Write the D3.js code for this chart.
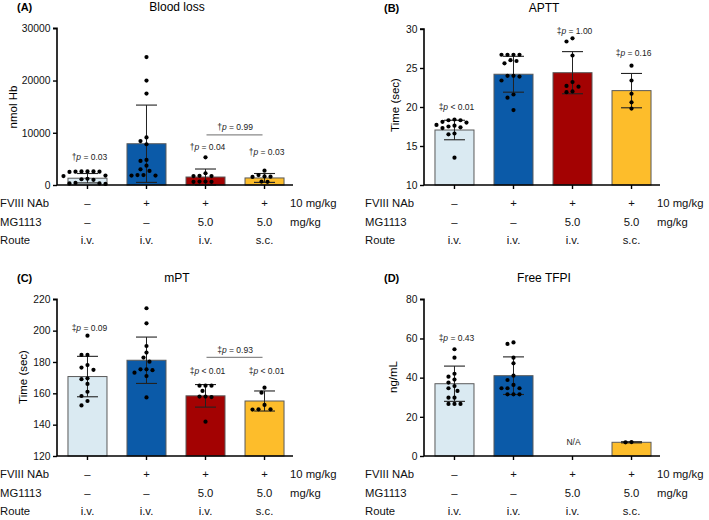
<!DOCTYPE html>
<html>
<head>
<meta charset="utf-8">
<script src="https://cdn.jsdelivr.net/npm/d3@7/dist/d3.min.js"></script>
<style>
  html, body { margin: 0; padding: 0; background: #fff; }
  svg { display: block; font-family: "Liberation Sans", Arial, Helvetica, sans-serif; }
</style>
</head>
<body>
<svg id="chart" width="709" height="520"></svg>
<script>
// ---------------- data ----------------
const groups = ["Vehicle", "FVIII NAb", "MG1113 i.v.", "MG1113 s.c."];
const groupColors = ["#daeaf2", "#0b5aa8", "#a30202", "#fdbd2b"];

const rowLabels = ["FVIII NAb", "MG1113", "Route"];
const rowUnits = ["10 mg/kg", "mg/kg", ""];
const fviiiRow = ["\u2013", "+", "+", "+"];
const mg1113Row = ["\u2013", "\u2013", "5.0", "5.0"];
const routeRow = ["i.v.", "i.v.", "i.v.", "s.c."];

// (A) Blood loss, nmol Hb
const bloodLossTicks = [0, 10000, 20000, 30000];
const bloodLossMean = [1300, 7900, 1530, 1350];
const bloodLossSD = [900, 7400, 1530, 850];
const bloodLossPoints = [
  [2600, 2600, 2600, 2550, 2550, 2500, 1800, 1700, 1200, 1100, 1000, 400, 300, 300, 200],
  [24500, 20000, 17500, 9100, 8400, 7800, 4800, 4600, 3700, 3000, 2700, 1900, 1900, 1800, 1800],
  [5300, 2250, 1750, 1700, 1700, 650, 650, 600, 600],
  [2750, 1900, 1650, 1600, 1550, 650, 600]
];

// (B) APTT, sec
const apttTicks = [10, 15, 20, 25, 30];
const apttMean = [17.05, 24.2, 24.4, 22.1];
const apttSD = [1.25, 2.3, 2.7, 2.2];
const apttPoints = [
  [18.4, 18.3, 18.3, 18.1, 18.0, 17.7, 17.6, 17.5, 17.4, 17.3, 16.6, 16.5, 13.5],
  [26.7, 26.7, 26.7, 26.7, 26.0, 25.9, 25.6, 24.0, 24.0, 23.9, 23.4, 21.6, 21.2, 19.6],
  [28.8, 28.4, 26.6, 23.2, 22.7, 22.6, 22.0, 21.9],
  [25.3, 23.4, 21.7, 20.6, 19.8]
];

// (C) mPT, sec
const mptTicks = [120, 140, 160, 180, 200, 220];
const mptMean = [170.7, 181.1, 158.4, 155.1];
const mptSD = [12.9, 14.8, 7.2, 6.4];
const mptPoints = [
  [196.8, 184.5, 184.5, 178, 176.4, 175, 169.6, 169, 166, 161, 158.3, 155.1, 152.3],
  [214.3, 204.7, 190.2, 186, 182.8, 180.2, 175.3, 175.3, 174.8, 173.2, 171, 157.4],
  [164.9, 164.9, 164.9, 161.5, 157.9, 157.9, 157.6, 141.9],
  [163.6, 160.4, 152.6, 149.8, 149.8, 149.6]
];

// (D) Free TFPI, ng/mL
const tfpiTicks = [0, 20, 40, 60, 80];
const tfpiMean = [36.9, 41.0, null, 7.0];
const tfpiSD = [9.0, 9.6, null, 0.3];
const tfpiPoints = [
  [54.5, 50.2, 42, 40.5, 39, 37.5, 35.7, 34.6, 33.2, 29.8, 29.8, 26.6, 26.6, 26.6],
  [58, 57.2, 50.2, 47.3, 41, 38.8, 36.3, 34.6, 34.6, 34.6, 31.5, 31.5, 31.5],
  [],
  [7.1, 7.0]
];

// annotations: [groupIndex, yValue, symbol, text]
const bloodLossNotes = [[0, 5400, "\u2020", " = 0.03"], [2, 7340, "\u2020", " = 0.04"], [3, 6320, "\u2020", " = 0.03"]];
const bloodLossBracket = { from: 2, to: 3, y: 9580, ty: 11170, sym: "\u2020", text: " = 0.99" };
const apttNotes = [[0, 20.05, "\u2021", " < 0.01"], [2, 29.74, "\u2021", " = 1.00"], [3, 26.9, "\u2021", " = 0.16"]];
const mptNotes = [[0, 201.9, "\u2021", " = 0.09"], [2, 174.4, "\u2021", " < 0.01"], [3, 174.4, "\u2021", " < 0.01"]];
const mptBracket = { from: 2, to: 3, y: 183, ty: 187.6, sym: "\u2021", text: " = 0.93" };
const tfpiNotes = [[0, 60.4, "\u2021", " = 0.43"]];

// ---------------- layout ----------------
const panels = [
  { letter: "(A)", title: "Blood loss", ylabel: "nmol Hb", x0: 57, top: 28.3, bottom: 185, domain: [0, 30000],
    ticks: bloodLossTicks, mean: bloodLossMean, sd: bloodLossSD, points: bloodLossPoints,
    notes: bloodLossNotes, bracket: bloodLossBracket, ylabX: 17, ylabY: 107, rowX: 0 },
  { letter: "(B)", title: "APTT", ylabel: "Time (sec)", x0: 424, top: 29, bottom: 185, domain: [10, 30],
    ticks: apttTicks, mean: apttMean, sd: apttSD, points: apttPoints,
    notes: apttNotes, bracket: null, ylabX: 399, ylabY: 105, rowX: 365 },
  { letter: "(C)", title: "mPT", ylabel: "Time (sec)", x0: 57, top: 299.3, bottom: 456, domain: [120, 220],
    ticks: mptTicks, mean: mptMean, sd: mptSD, points: mptPoints,
    notes: mptNotes, bracket: mptBracket, ylabX: 27, ylabY: 377, rowX: 0 },
  { letter: "(D)", title: "Free TFPI", ylabel: "ng/mL", x0: 424, top: 299.3, bottom: 456, domain: [0, 80],
    ticks: tfpiTicks, mean: tfpiMean, sd: tfpiSD, points: tfpiPoints,
    notes: tfpiNotes, bracket: null, na: 2, ylabX: 397, ylabY: 377, rowX: 365 }
];

const svg = d3.select("#chart");
svg.append("rect").attr("width", 709).attr("height", 520).attr("fill", "#fff");

const tableRows = [fviiiRow, mg1113Row, routeRow];

panels.forEach(p => {
  const g = svg.append("g");
  const x = d3.scaleBand().domain(groups).range([p.x0, p.x0 + 238]).paddingInner(0.339).paddingOuter(0.186);
  const y = d3.scaleLinear().domain(p.domain).range([p.bottom, p.top]).clamp(true);
  const cx = i => x(groups[i]) + x.bandwidth() / 2;
  const axisEnd = p.x0 + 236;

  // title & letter
  g.append("text").attr("x", p.x0 - 40).attr("y", p.top - 17).attr("font-size", 11).attr("font-weight", "bold")
    .text(p.letter);
  g.append("text").attr("x", (p.x0 + axisEnd) / 2 + 2).attr("y", p.top - 17).attr("font-size", 12)
    .attr("text-anchor", "middle").text(p.title);

  // bars
  groups.forEach((grp, i) => {
    if (p.mean[i] == null) return;
    g.append("rect").attr("x", x(grp)).attr("width", x.bandwidth())
      .attr("y", y(p.mean[i])).attr("height", y(p.domain[0]) - y(p.mean[i]))
      .attr("fill", groupColors[i]).attr("stroke", "#5a5a5a").attr("stroke-width", 1);
  });

  // error bars
  groups.forEach((grp, i) => {
    if (p.mean[i] == null) return;
    const hi = y(p.mean[i] + p.sd[i]), lo = y(p.mean[i] - p.sd[i]);
    const c = cx(i);
    g.append("line").attr("x1", c).attr("x2", c).attr("y1", hi).attr("y2", lo).attr("stroke", "#222").attr("stroke-width", 1);
    [hi, lo].forEach(v => g.append("line").attr("x1", c - 10.5).attr("x2", c + 10.5).attr("y1", v).attr("y2", v)
      .attr("stroke", "#222").attr("stroke-width", 1.1));
  });

  // dots (simple beeswarm)
  p.points.forEach((vals, i) => {
    const placed = [];
    const c = cx(i);
    vals.slice().sort((a, b) => b - a).forEach(v => {
      const py = y(v);
      for (let k = 0; k < 40; k++) {
        const off = (k % 2 === 1 ? -1 : 1) * Math.ceil(k / 2) * 3;
        const px = c + off;
        if (placed.every(q => Math.hypot(q[0] - px, q[1] - py) > 5.6)) { placed.push([px, py]); break; }
      }
    });
    placed.forEach(q => g.append("circle").attr("cx", q[0]).attr("cy", q[1]).attr("r", 2.1).attr("fill", "#000"));
  });

  // axes
  const yAxis = d3.axisLeft(y).tickValues(p.ticks).tickSize(4).tickPadding(2.5).tickFormat(d3.format("d"));
  const ya = g.append("g").attr("transform", `translate(${p.x0},0)`).call(yAxis);
  ya.select(".domain").attr("stroke-width", 1.6).attr("d", `M-4,${p.top}H0V${p.bottom}`);
  ya.selectAll(".tick line").attr("stroke-width", 1.4);
  ya.selectAll("text").attr("font-size", 10.3).attr("fill", "#111").attr("font-family", "Liberation Sans, Arial, sans-serif");

  g.append("line").attr("x1", p.x0).attr("x2", axisEnd).attr("y1", p.bottom).attr("y2", p.bottom)
    .attr("stroke", "#000").attr("stroke-width", 1.6);
  groups.forEach((grp, i) => g.append("line").attr("x1", cx(i)).attr("x2", cx(i))
    .attr("y1", p.bottom).attr("y2", p.bottom + 4).attr("stroke", "#000").attr("stroke-width", 1.4));

  // y label
  g.append("text").attr("transform", `translate(${p.ylabX},${p.ylabY}) rotate(-90)`)
    .attr("text-anchor", "middle").attr("font-size", 11.5).text(p.ylabel);

  // notes
  const note = (xc, yv, sym, txt) => {
    const t = g.append("text").attr("x", xc).attr("y", y(yv) + 3).attr("text-anchor", "middle")
      .attr("font-size", 8.5).attr("fill", "#222");
    t.append("tspan").text(sym);
    t.append("tspan").attr("font-style", "italic").text("p");
    t.append("tspan").text(txt);
  };
  p.notes.forEach(n => note(cx(n[0]) + 2, n[1], n[2], n[3]));
  if (p.bracket) {
    const b = p.bracket;
    g.append("line").attr("x1", cx(b.from) + 1).attr("x2", cx(b.to) - 2).attr("y1", y(b.y)).attr("y2", y(b.y))
      .attr("stroke", "#8a8a8a").attr("stroke-width", 1.3);
    note((cx(b.from) + cx(b.to)) / 2, b.ty, b.sym, b.text);
  }
  if (p.na != null) {
    g.append("text").attr("x", cx(p.na) + 1).attr("y", p.bottom - 11).attr("text-anchor", "middle")
      .attr("font-size", 8.5).attr("fill", "#222").text("N/A");
  }

  // table
  const rowOffsets = [18.3, 36.7, 55];
  tableRows.forEach((row, r) => {
    const ty = p.bottom + rowOffsets[r] + 4;
    g.append("text").attr("x", p.rowX).attr("y", ty).attr("font-size", 11.3).attr("fill", "#111")
      .text(rowLabels[r]);
    row.forEach((v, i) => g.append("text").attr("x", cx(i)).attr("y", ty).attr("text-anchor", "middle")
      .attr("font-size", 11.3).attr("fill", "#111").text(v));
    if (rowUnits[r]) g.append("text").attr("x", p.x0 + 233).attr("y", ty).attr("font-size", 11.3).attr("fill", "#111")
      .text(rowUnits[r]);
  });
});
</script>
</body>
</html>
